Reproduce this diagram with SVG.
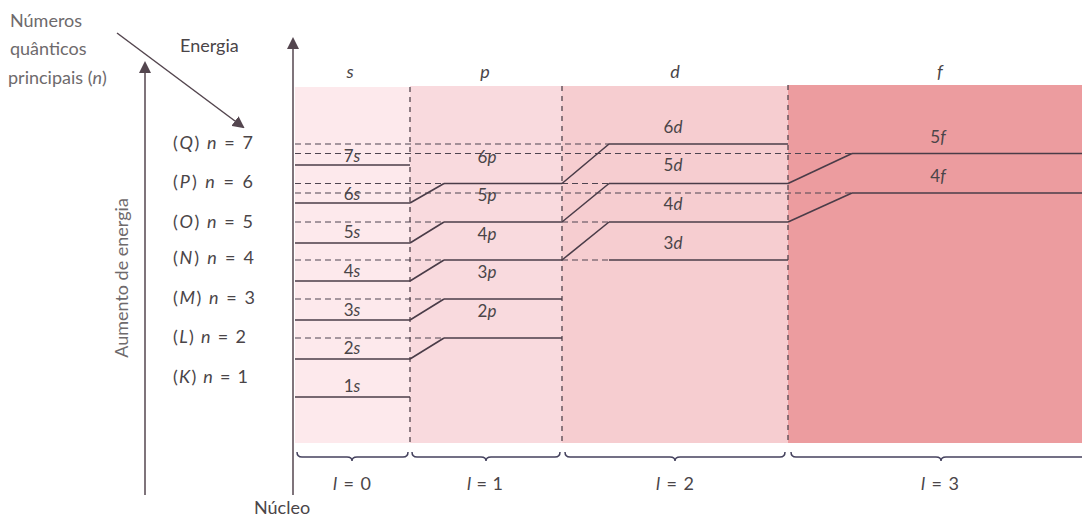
<svg xmlns="http://www.w3.org/2000/svg" width="1082" height="520" viewBox="0 0 1082 520">
<defs>
<marker id="ah" viewBox="0 0 12 12" refX="10" refY="6" markerWidth="12" markerHeight="12" markerUnits="userSpaceOnUse" orient="auto">
<path d="M0,0 L12,6 L0,12 Z" fill="#54464f"/>
</marker>
</defs>
<style>
.t{font-family:Lato,"Open Sans","Liberation Sans",sans-serif;fill:#4a4548;}
.g{fill:#6e6a6c;}
.lbl{font-size:17px;text-anchor:middle;}
.big{font-size:18px;}
.i{font-style:italic;}
.lv{stroke:#4a3c48;stroke-width:1.6;fill:none;}
.dh{stroke:#4f4450;stroke-width:1.2;stroke-dasharray:6 4;fill:none;}
.dv{stroke:#5f5058;stroke-width:1.4;stroke-dasharray:5 5;fill:none;}
.ax{stroke:#54464f;stroke-width:1.5;fill:none;}
.br{stroke:#45425e;stroke-width:1.5;fill:none;}
</style>
<rect width="1082" height="520" fill="#ffffff"/>

<g id="regions">
<rect x="295" y="87" width="115" height="356" fill="#fde9ec"/>
<rect x="410" y="86" width="152" height="357" fill="#f9dade"/>
<rect x="562" y="86" width="226" height="357" fill="#f6cdd0"/>
<rect x="788" y="85" width="294" height="358" fill="#ec9c9f"/>
</g>

<g id="column-dividers">
<line class="dv" x1="410" y1="87" x2="410" y2="443"/>
<line class="dv" x1="562" y1="86" x2="562" y2="443"/>
<line class="dv" x1="788" y1="85" x2="788" y2="443"/>
</g>

<g id="headers">
<text class="t lbl big i" x="350" y="78">s</text>
<text class="t lbl big i" x="485" y="78">p</text>
<text class="t lbl big i" x="675" y="78">d</text>
<text class="t lbl big i" x="940" y="78">f</text>
</g>

<g id="connectors">
<line class="dh" x1="295" y1="144" x2="609" y2="144"/>
<line class="dh" x1="295" y1="153.5" x2="852" y2="153.5"/>
<line class="dh" x1="295" y1="193" x2="852" y2="193"/>
<line class="dh" x1="295" y1="183.5" x2="444" y2="183.5"/>
<line class="dh" x1="562" y1="183.5" x2="609" y2="183.5"/>
<line class="dh" x1="295" y1="222" x2="444" y2="222"/>
<line class="dh" x1="562" y1="222" x2="609" y2="222"/>
<line class="dh" x1="295" y1="260" x2="444" y2="260"/>
<line class="dh" x1="562" y1="260" x2="609" y2="260"/>
<line class="dh" x1="295" y1="299" x2="444" y2="299"/>
<line class="dh" x1="295" y1="338" x2="444" y2="338"/>
<line class="lv" x1="410" y1="359" x2="444" y2="338"/>
<line class="lv" x1="410" y1="320" x2="444" y2="299"/>
<line class="lv" x1="410" y1="281" x2="444" y2="260"/>
<line class="lv" x1="410" y1="243" x2="444" y2="222"/>
<line class="lv" x1="410" y1="203" x2="444" y2="183.5"/>
<line class="lv" x1="562" y1="260" x2="609" y2="222"/>
<line class="lv" x1="562" y1="222" x2="609" y2="183.5"/>
<line class="lv" x1="562" y1="183.5" x2="609" y2="144"/>
<line class="lv" x1="788" y1="222" x2="852" y2="193"/>
<line class="lv" x1="788" y1="183.5" x2="852" y2="153.5"/>
<line class="ax" x1="293" y1="495" x2="293" y2="39" marker-end="url(#ah)"/>
<line class="ax" x1="145" y1="495" x2="145" y2="63" marker-end="url(#ah)"/>
<line class="ax" x1="117" y1="33" x2="243" y2="127" marker-end="url(#ah)"/>
</g>

<g id="s-levels">
<line class="lv" x1="295" y1="397" x2="410" y2="397"/>
<line class="lv" x1="295" y1="359" x2="410" y2="359"/>
<line class="lv" x1="295" y1="320" x2="410" y2="320"/>
<line class="lv" x1="295" y1="281" x2="410" y2="281"/>
<line class="lv" x1="295" y1="243" x2="410" y2="243"/>
<line class="lv" x1="295" y1="203" x2="410" y2="203"/>
<line class="lv" x1="295" y1="165" x2="410" y2="165"/>
<text class="t lbl" x="352" y="392">1<tspan class="i">s</tspan></text>
<text class="t lbl" x="352" y="354">2<tspan class="i">s</tspan></text>
<text class="t lbl" x="352" y="316">3<tspan class="i">s</tspan></text>
<text class="t lbl" x="352" y="277">4<tspan class="i">s</tspan></text>
<text class="t lbl" x="352" y="238">5<tspan class="i">s</tspan></text>
<text class="t lbl" x="352" y="200">6<tspan class="i">s</tspan></text>
<text class="t lbl" x="352" y="162">7<tspan class="i">s</tspan></text>
</g>

<g id="p-levels">
<line class="lv" x1="444" y1="338" x2="562" y2="338"/>
<line class="lv" x1="444" y1="299" x2="562" y2="299"/>
<line class="lv" x1="444" y1="260" x2="562" y2="260"/>
<line class="lv" x1="444" y1="222" x2="562" y2="222"/>
<line class="lv" x1="444" y1="183.5" x2="562" y2="183.5"/>
<text class="t lbl" x="487" y="317">2<tspan class="i">p</tspan></text>
<text class="t lbl" x="487" y="278">3<tspan class="i">p</tspan></text>
<text class="t lbl" x="487" y="240">4<tspan class="i">p</tspan></text>
<text class="t lbl" x="487" y="201">5<tspan class="i">p</tspan></text>
<text class="t lbl" x="487" y="163">6<tspan class="i">p</tspan></text>
</g>

<g id="d-levels">
<line class="lv" x1="609" y1="260" x2="788" y2="260"/>
<line class="lv" x1="609" y1="222" x2="788" y2="222"/>
<line class="lv" x1="609" y1="183.5" x2="788" y2="183.5"/>
<line class="lv" x1="609" y1="144" x2="788" y2="144"/>
<text class="t lbl" x="673" y="249">3<tspan class="i">d</tspan></text>
<text class="t lbl" x="673" y="210">4<tspan class="i">d</tspan></text>
<text class="t lbl" x="673" y="171">5<tspan class="i">d</tspan></text>
<text class="t lbl" x="673" y="133">6<tspan class="i">d</tspan></text>
</g>

<g id="f-levels">
<line class="lv" x1="852" y1="193" x2="1082" y2="193"/>
<line class="lv" x1="852" y1="153.5" x2="1082" y2="153.5"/>
<text class="t lbl" x="938" y="182">4<tspan class="i">f</tspan></text>
<text class="t lbl" x="938" y="143">5<tspan class="i">f</tspan></text>
</g>

<g id="shells">
<text class="t big" x="173" y="149" textLength="80" lengthAdjust="spacing">(<tspan class="i">Q</tspan>) <tspan class="i">n</tspan> = 7</text>
<text class="t big" x="173" y="188" textLength="80" lengthAdjust="spacing">(<tspan class="i">P</tspan>) <tspan class="i">n</tspan> = 6</text>
<text class="t big" x="173" y="228" textLength="80" lengthAdjust="spacing">(<tspan class="i">O</tspan>) <tspan class="i">n</tspan> = 5</text>
<text class="t big" x="173" y="264" textLength="81" lengthAdjust="spacing">(<tspan class="i">N</tspan>) <tspan class="i">n</tspan> = 4</text>
<text class="t big" x="173" y="304" textLength="82" lengthAdjust="spacing">(<tspan class="i">M</tspan>) <tspan class="i">n</tspan> = 3</text>
<text class="t big" x="173" y="343" textLength="73" lengthAdjust="spacing">(<tspan class="i">L</tspan>) <tspan class="i">n</tspan> = 2</text>
<text class="t big" x="173" y="383" textLength="75" lengthAdjust="spacing">(<tspan class="i">K</tspan>) <tspan class="i">n</tspan> = 1</text>
</g>

<g id="titles">
<text class="t g big" x="10" y="27">Números</text>
<text class="t g big" x="10" y="55">quânticos</text>
<text class="t g big" x="8" y="84">principais (<tspan class="i">n</tspan>)</text>
<text class="t big" x="180" y="52">Energia</text>
<text class="t g big" transform="translate(128,278) rotate(-90)" text-anchor="middle">Aumento de energia</text>
<text class="t big" x="254" y="514">Núcleo</text>
</g>

<g id="braces">
<path class="br" d="M297,452 q0,5 5,5 H347 q5,0 5,4 q0,-4 5,-4 H403 q5,0 5,-5"/>
<path class="br" d="M412,452 q0,5 5,5 H481 q5,0 5,4 q0,-4 5,-4 H555 q5,0 5,-5"/>
<path class="br" d="M565,452 q0,5 5,5 H670 q5,0 5,4 q0,-4 5,-4 H780 q5,0 5,-5"/>
<path class="br" d="M791,452 q0,5 5,5 H936 q5,0 5,4 q0,-4 5,-4 H1082"/>
<text class="t lbl big" x="352" y="490" textLength="38" lengthAdjust="spacing"><tspan class="i">l</tspan> = 0</text>
<text class="t lbl big" x="485" y="490" textLength="36" lengthAdjust="spacing"><tspan class="i">l</tspan> = 1</text>
<text class="t lbl big" x="675" y="490" textLength="38" lengthAdjust="spacing"><tspan class="i">l</tspan> = 2</text>
<text class="t lbl big" x="940" y="490" textLength="38" lengthAdjust="spacing"><tspan class="i">l</tspan> = 3</text>
</g>
</svg>
